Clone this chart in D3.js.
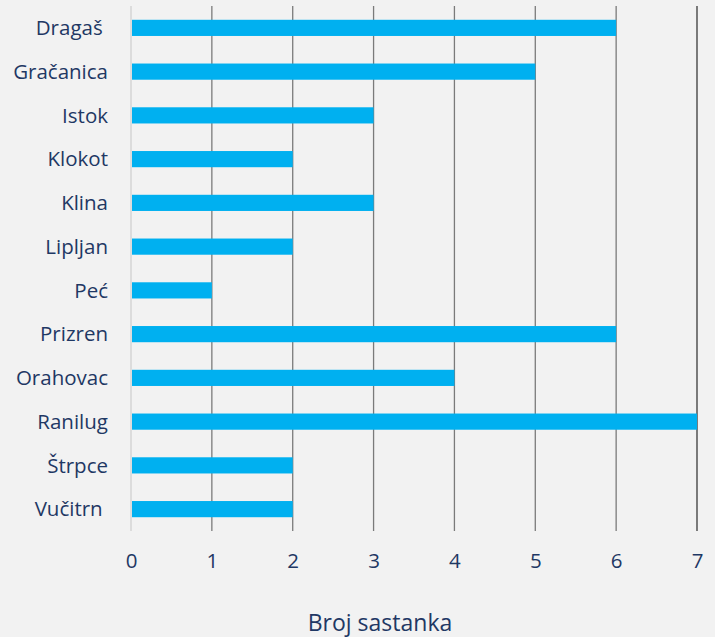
<!DOCTYPE html>
<html><head><meta charset="utf-8">
<script src="https://cdn.jsdelivr.net/npm/d3@7"></script>
<style>body{margin:0;background:#f2f2f2;} svg{display:block;}</style>
</head><body>
<svg id="c" width="715" height="637"></svg>
<script>
const categories = ["Dragaš ", "Gračanica", "Istok", "Klokot", "Klina", "Lipljan", "Peć", "Prizren", "Orahovac", "Ranilug", "Štrpce", "Vučitrn "];
const values = [6, 5, 3, 2, 3, 2, 1, 6, 4, 7, 2, 2];
const ticks = [0, 1, 2, 3, 4, 5, 6, 7];
const axisTitle = "Broj sastanka";

const svg = d3.select("#c");
const W = 715, H = 637;
const m = {left: 131, right: 18, top: 6, bottom: 106};
const textColor = "#1f3864";
const font = "'Open Sans', sans-serif";

svg.append("rect").attr("width", W).attr("height", H).attr("fill", "#f2f2f2");

const x = d3.scaleLinear().domain([0, 7]).range([m.left, W - m.right]);
const y = d3.scaleBand().domain(categories).range([m.top, H - m.bottom]).paddingInner(0.63).paddingOuter(0.315);

// gridlines
svg.append("g").selectAll("line").data(ticks).join("line")
  .attr("x1", d => x(d)).attr("x2", d => x(d))
  .attr("y1", m.top).attr("y2", H - m.bottom)
  .attr("stroke", d => d === 0 ? "#d0d0d0" : (d === 7 ? "#3a3a3a" : "#7a7a7a"))
  .attr("stroke-width", 1.3);

// bars
svg.append("g").selectAll("rect").data(categories).join("rect")
  .attr("x", x(0) + 1)
  .attr("y", d => y(d))
  .attr("width", (d, i) => x(values[i]) - x(0) - 1)
  .attr("height", y.bandwidth())
  .attr("fill", "#00b0f0");

// category labels
svg.append("g").selectAll("text").data(categories).join("text")
  .attr("x", 108)
  .attr("y", d => y(d) + y.bandwidth() / 2)
  .attr("dy", "0.35em")
  .attr("text-anchor", "end")
  .style("white-space", "pre")
  .attr("font-family", font).attr("font-size", 20.5)
  .attr("fill", textColor)
  .text(d => d);

// x tick labels
const xAxis = d3.axisBottom(x).tickValues(ticks).tickSize(0).tickPadding(0).tickFormat(d3.format("d"));
const gx = svg.append("g").attr("transform", `translate(0,${H - m.bottom})`).call(xAxis);
gx.select(".domain").remove();
gx.selectAll("text").attr("y", 30).attr("dy", "0.35em")
  .attr("font-family", font).attr("font-size", 20.5).attr("fill", textColor);

// axis title
svg.append("text").attr("x", 380).attr("y", 623).attr("dy", "0.35em")
  .attr("text-anchor", "middle")
  .attr("font-family", font).attr("font-size", 23).attr("fill", textColor)
  .text(axisTitle);
</script>
</body></html>
